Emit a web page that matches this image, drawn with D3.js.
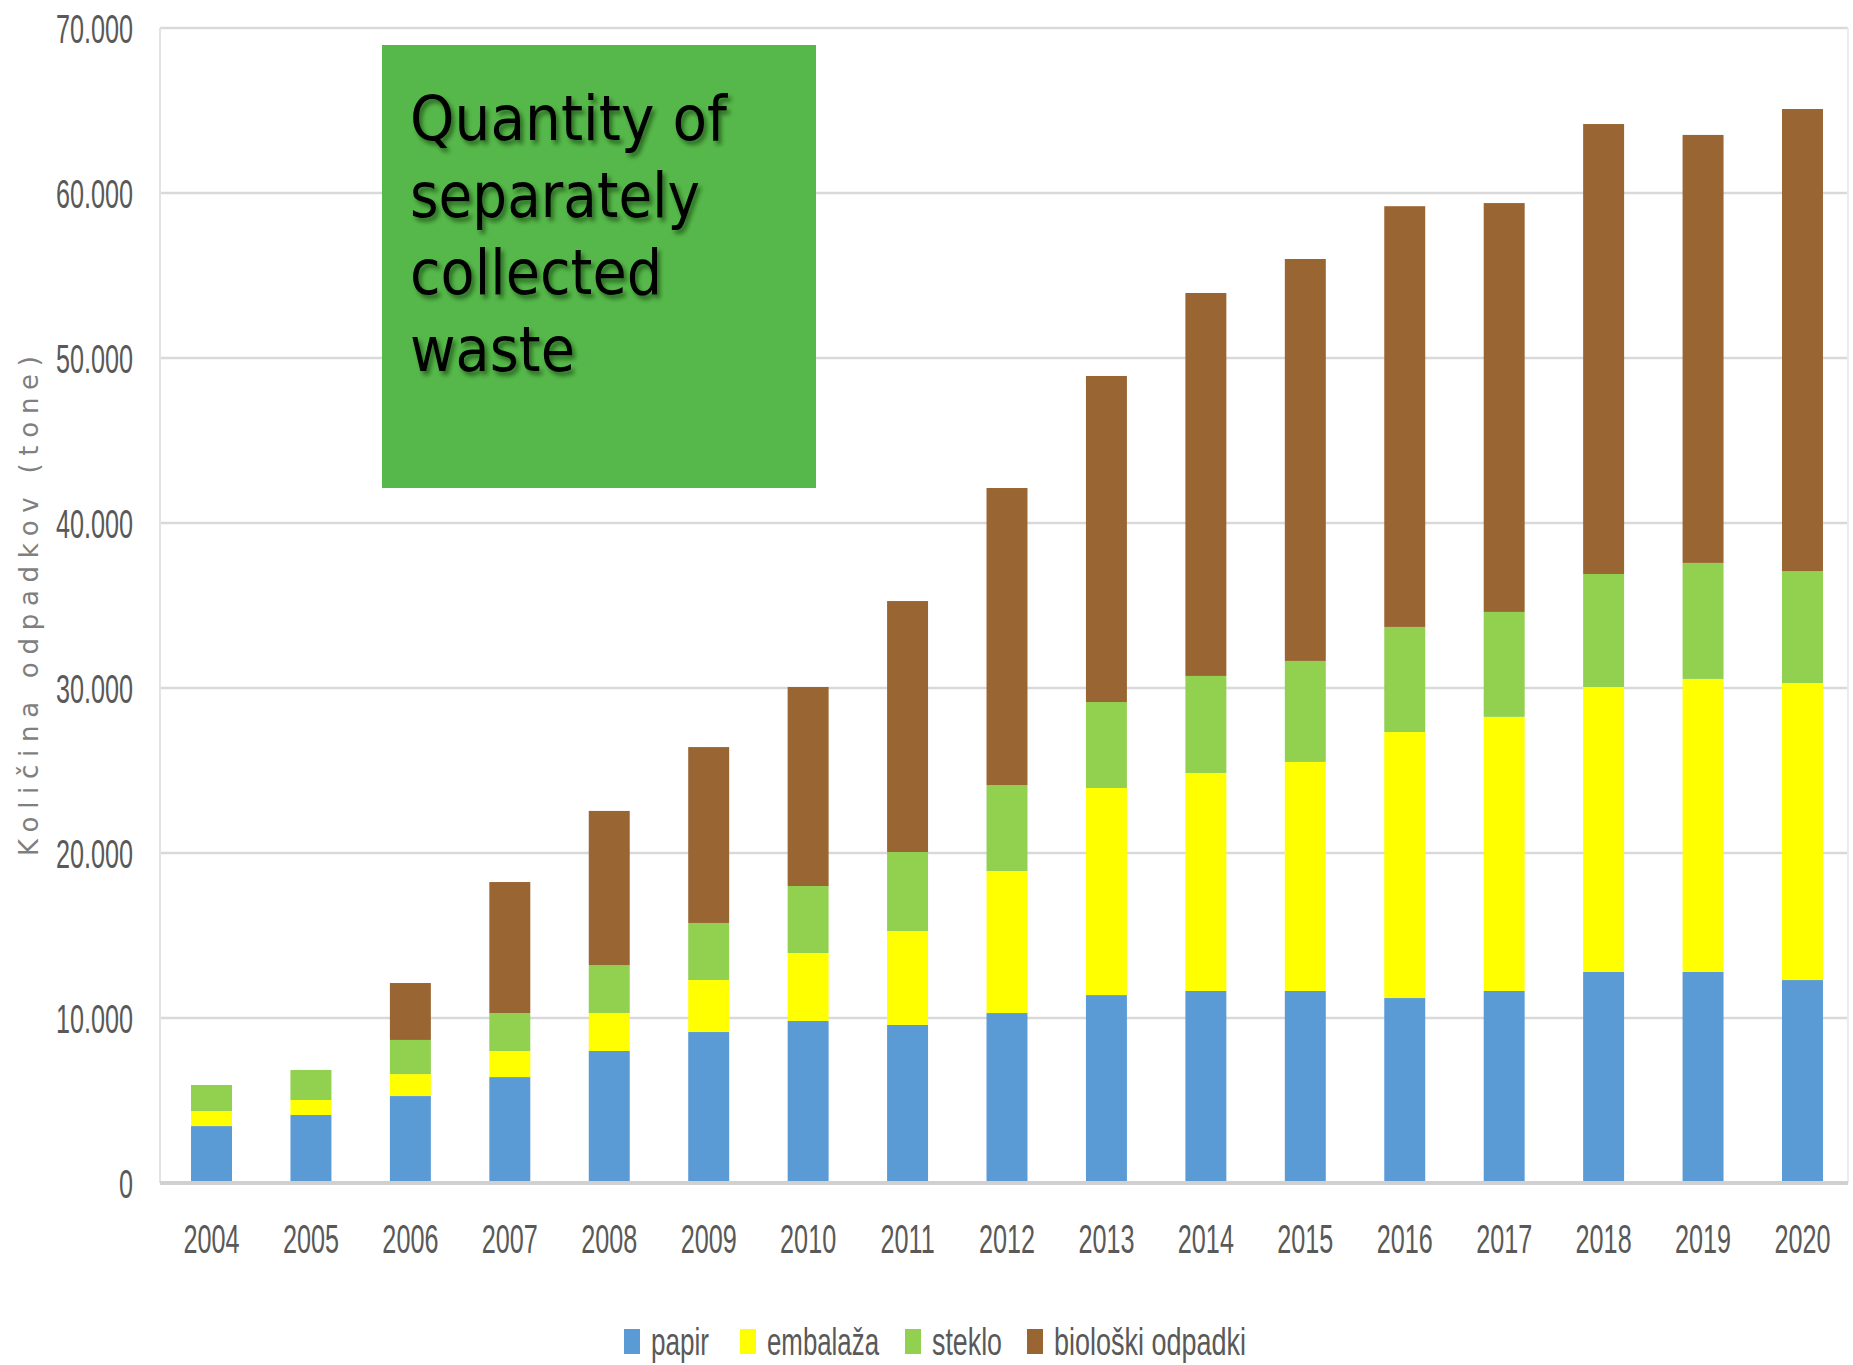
<!DOCTYPE html>
<html>
<head>
<meta charset="utf-8">
<script src="https://cdn.jsdelivr.net/npm/d3@7/dist/d3.min.js"></script>
<style>
  body { margin: 0; background: #fff; }
  svg { display: block; }
</style>
</head>
<body>
<div id="chart"></div>
<script>
// data (tone)
const years = ['2004','2005','2006','2007','2008','2009','2010','2011','2012','2013','2014','2015','2016','2017','2018','2019','2020'];
const papir    = [3450, 4120, 5270, 6420, 8000, 9150, 9820, 9580, 10300, 11390, 11640, 11640, 11210, 11640, 12790, 12790, 12300];
const embalaza = [910, 910, 1330, 1580, 2300, 3150, 4120, 5690, 8610, 12550, 13210, 13880, 16120, 16610, 17270, 17760, 18000];
const steklo   = [1580, 1820, 2070, 2300, 2910, 3460, 4060, 4790, 5210, 5210, 5880, 6120, 6370, 6360, 6850, 7030, 6790];
const bioloski = [0, 0, 3450, 7940, 9340, 10660, 12060, 15210, 18000, 19760, 23210, 24360, 25500, 24780, 27270, 25940, 28000];
const seriesNames = ['papir', 'embalaža', 'steklo', 'biološki odpadki'];
const colors = ['#5B9BD5', '#FFFF00', '#92D050', '#996633'];
const yTicks = [0, 10000, 20000, 30000, 40000, 50000, 60000, 70000];
const titleLines = ['Quantity of', 'separately', 'collected', 'waste'];

const W = 1853, H = 1365;
const margin = {top: 28, right: 5, bottom: 182, left: 160};
const sx = 0.63; // horizontal squeeze of the narrow labels

const svg = d3.select('#chart').append('svg')
  .attr('width', W)
  .attr('height', H);

const x = d3.scaleBand()
  .domain(years)
  .range([margin.left, 1854])
  .paddingInner(0.588)
  .paddingOuter(0.312);

const y = d3.scaleLinear()
  .domain([0, 70000])
  .range([H - margin.bottom, margin.top]);

const fmt = d => d === 0 ? '0' : d3.format(',')(d).replace(/,/g, '.');

// grid
svg.append('g')
  .selectAll('line')
  .data(yTicks.slice(1))
  .enter().append('line')
  .attr('x1', margin.left)
  .attr('x2', W - margin.right)
  .attr('y1', d => y(d))
  .attr('y2', d => y(d))
  .style('stroke', '#D9D9D9')
  .style('stroke-width', 2.5);

// side borders
svg.append('line')
  .attr('x1', margin.left).attr('x2', margin.left)
  .attr('y1', margin.top).attr('y2', y(0))
  .style('stroke', '#E3E3E3').style('stroke-width', 2);
svg.append('line')
  .attr('x1', W - margin.right).attr('x2', W - margin.right)
  .attr('y1', margin.top).attr('y2', y(0))
  .style('stroke', '#EBEBEB').style('stroke-width', 2);

// stacked bars
const rows = years.map((yr, i) => ({
  year: yr, papir: papir[i], embalaza: embalaza[i], steklo: steklo[i], bioloski: bioloski[i]
}));
const keys = ['papir', 'embalaza', 'steklo', 'bioloski'];
const stacked = d3.stack().keys(keys)(rows);

svg.append('g')
  .selectAll('g')
  .data(stacked)
  .enter().append('g')
  .style('fill', (d, i) => colors[i])
  .selectAll('rect')
  .data(d => d)
  .enter().append('rect')
  .attr('x', d => x(d.data.year))
  .attr('width', x.bandwidth())
  .attr('y', d => y(d[1]))
  .attr('height', d => y(d[0]) - y(d[1]));

// base line
svg.append('line')
  .attr('x1', margin.left).attr('x2', W - margin.right)
  .attr('y1', y(0)).attr('y2', y(0))
  .style('stroke', '#D0D0D0').style('stroke-width', 4);

// y axis labels
const yAxis = d3.axisLeft(y).tickValues(yTicks).tickFormat(fmt).tickSize(0);
const gy = svg.append('g')
  .attr('transform', 'translate(' + margin.left + ',0)')
  .call(yAxis);
gy.select('.domain').remove();
gy.selectAll('text')
  .attr('x', 0)
  .attr('dy', '0.36em')
  .attr('transform', 'translate(-27,0) scale(' + sx + ',1)')
  .style('font-family', '"Liberation Sans", Arial, sans-serif')
  .style('font-size', '40px')
  .style('fill', '#595959');

// x axis labels
const xAxis = d3.axisBottom(x).tickSize(0);
const gx = svg.append('g')
  .attr('transform', 'translate(0,' + y(0) + ')')
  .call(xAxis);
gx.select('.domain').remove();
gx.selectAll('text')
  .attr('y', 0)
  .attr('dy', 0)
  .attr('transform', 'translate(0,70) scale(' + sx + ',1)')
  .style('font-family', '"Liberation Sans", Arial, sans-serif')
  .style('font-size', '40px')
  .style('fill', '#595959');

// y axis title
svg.append('text')
  .attr('transform', 'translate(38,606) rotate(-90)')
  .attr('text-anchor', 'middle')
  .attr('textLength', 500)
  .attr('lengthAdjust', 'spacing')
  .style('font-family', '"DejaVu Sans", sans-serif')
  .style('font-size', '26px')
  .style('fill', '#7F7F7F')
  .text('Količina odpadkov (tone)');

// legend
const legendX = [624, 740, 905, 1027];
const legendLen = [58, 112, 70, 192];
const leg = svg.append('g')
  .selectAll('g')
  .data(seriesNames)
  .enter().append('g')
  .attr('transform', (d, i) => 'translate(' + legendX[i] + ',1329)');
leg.append('rect')
  .attr('width', 16)
  .attr('height', 25)
  .style('fill', (d, i) => colors[i]);
leg.append('text')
  .attr('x', 27)
  .attr('y', 26)
  .attr('textLength', (d, i) => legendLen[i])
  .attr('lengthAdjust', 'spacingAndGlyphs')
  .style('font-family', '"Liberation Sans", Arial, sans-serif')
  .style('font-size', '38px')
  .style('fill', '#595959')
  .text(d => d);

// title box
const defs = svg.append('defs');
const f = defs.append('filter').attr('id', 'shadow')
  .attr('x', '-10%').attr('y', '-10%').attr('width', '130%').attr('height', '140%');
f.append('feDropShadow')
  .attr('dx', 3).attr('dy', 4).attr('stdDeviation', 2)
  .attr('flood-color', '#1e4a17').attr('flood-opacity', 0.7);

svg.append('rect')
  .attr('x', 382).attr('y', 45)
  .attr('width', 434).attr('height', 443)
  .style('fill', '#56B84B');

const titleLen = [317, 290, 252, 165];
svg.append('g')
  .attr('filter', 'url(#shadow)')
  .selectAll('text')
  .data(titleLines)
  .enter().append('text')
  .attr('x', 410)
  .attr('y', (d, i) => 140 + i * 77)
  .attr('textLength', (d, i) => titleLen[i])
  .attr('lengthAdjust', 'spacingAndGlyphs')
  .style('font-family', '"DejaVu Sans", sans-serif')
  .style('font-size', '62px')
  .style('fill', '#000')
  .text(d => d);
</script>
</body>
</html>
